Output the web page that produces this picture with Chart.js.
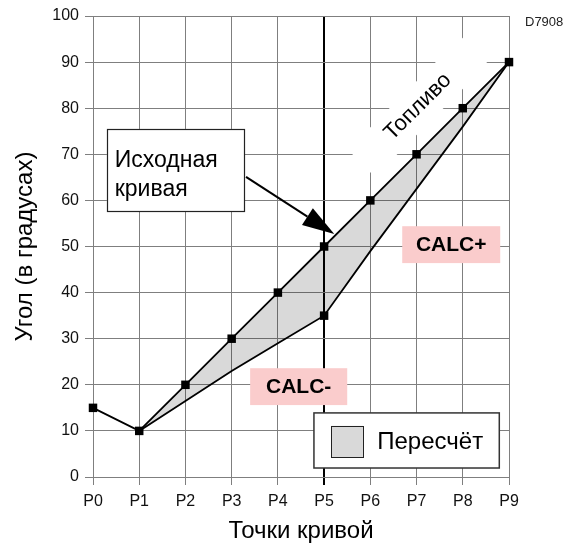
<!DOCTYPE html>
<html>
<head>
<meta charset="utf-8">
<script src="https://cdn.jsdelivr.net/npm/chart.js@4.4.1/dist/chart.umd.min.js"></script>
<style>
  html, body { margin: 0; padding: 0; background: #fff; }
  #wrap { width: 565px; height: 546px; position: relative; }
</style>
</head>
<body>
<div id="wrap"><canvas id="c"></canvas></div>
<script>
// ---- data ----
const categories = ['P0', 'P1', 'P2', 'P3', 'P4', 'P5', 'P6', 'P7', 'P8', 'P9'];
const initialCurve = [15, 10, 20, 30, 40, 50, 60, 70, 80, 90];
const recalcCurve = [null, 10, 16.5, 23, 29, 35, 49, 62.5, 76, 90];
const recalcMarkerIndex = 5;
const highlightCategory = 5;
const yTicks = { min: 0, max: 100, step: 10 };

const legendLabel = 'Пересчёт';
const xTitle = 'Точки кривой';
const yTitle = 'Угол (в градусах)';
const calloutLines = ['Исходная', 'кривая'];
const fuelLabel = 'Топливо';
const calcPlusLabel = 'CALC+';
const calcMinusLabel = 'CALC-';
const docId = 'D7908';

const FONT = '"Liberation Sans", Arial, Helvetica, sans-serif';
const GRID = '#7f7f7f';
const FILL = 'rgba(0,0,0,0.15)';
const PINK = '#facccc';

const annotations = {
  id: 'annotations',
  afterDraw(chart) {
    const ctx = chart.ctx;
    const xs = chart.scales.x, ys = chart.scales.y;
    const px = v => xs.getPixelForValue(v);
    const py = v => ys.getPixelForValue(v);
    ctx.save();

    // white band behind "Топливо"
    const ang = Math.atan2(py(initialCurve[9]) - py(initialCurve[6]), px(9) - px(6));
    ctx.save();
    ctx.translate(px(7.03), py(80.3));
    ctx.rotate(ang);
    ctx.fillStyle = '#fff';
    ctx.fillRect(-80, -19, 160, 38);
    ctx.fillStyle = '#000';
    ctx.font = '22px ' + FONT;
    ctx.textAlign = 'center';
    ctx.textBaseline = 'middle';
    ctx.fillText(fuelLabel, 0, 0);
    ctx.restore();

    // callout box
    const bx0 = px(0.3), bx1 = px(3.27), by0 = py(75.5), by1 = py(57.7);
    ctx.fillStyle = '#fff';
    ctx.fillRect(bx0, by0, bx1 - bx0, by1 - by0);
    ctx.strokeStyle = '#222';
    ctx.lineWidth = 1.2;
    ctx.strokeRect(Math.round(bx0) + 0.5, Math.round(by0) + 0.5, Math.round(bx1 - bx0), Math.round(by1 - by0));
    ctx.fillStyle = '#000';
    ctx.font = '23px ' + FONT;
    ctx.textAlign = 'left';
    ctx.textBaseline = 'alphabetic';
    ctx.fillText(calloutLines[0], px(0.47), py(67.2));
    ctx.fillText(calloutLines[1], px(0.47), py(60.9));

    // arrow
    const ax0 = px(3.31), ay0 = py(65.1), ax1 = px(5.22), ay1 = py(52.7);
    const a = Math.atan2(ay1 - ay0, ax1 - ax0);
    const hl = 32, hw = 10;
    const bxh = ax1 - hl * Math.cos(a), byh = ay1 - hl * Math.sin(a);
    ctx.strokeStyle = '#000';
    ctx.lineWidth = 2;
    ctx.beginPath();
    ctx.moveTo(ax0, ay0);
    ctx.lineTo(bxh, byh);
    ctx.stroke();
    ctx.beginPath();
    ctx.moveTo(ax1, ay1);
    ctx.lineTo(bxh + hw * Math.sin(a), byh - hw * Math.cos(a));
    ctx.lineTo(bxh - hw * Math.sin(a), byh + hw * Math.cos(a));
    ctx.closePath();
    ctx.fillStyle = '#000';
    ctx.fill();

    // pink labels
    function pinkLabel(text, x0, x1, y0, y1) {
      ctx.fillStyle = PINK;
      ctx.fillRect(px(x0), py(y0), px(x1) - px(x0), py(y1) - py(y0));
      ctx.fillStyle = '#000';
      ctx.font = 'bold 21px ' + FONT;
      ctx.textAlign = 'center';
      ctx.textBaseline = 'middle';
      ctx.fillText(text, (px(x0) + px(x1)) / 2, (py(y0) + py(y1)) / 2 + 1);
    }
    pinkLabel(calcPlusLabel, 6.69, 8.81, 54.4, 46.4);
    pinkLabel(calcMinusLabel, 3.40, 5.50, 23.6, 15.6);

    // legend
    const lx0 = px(4.78), lx1 = px(8.79), ly0 = py(13.9), ly1 = py(1.95);
    ctx.fillStyle = '#fff';
    ctx.fillRect(lx0, ly0, lx1 - lx0, ly1 - ly0);
    ctx.strokeStyle = '#333';
    ctx.lineWidth = 1.5;
    ctx.strokeRect(lx0, ly0, lx1 - lx0, ly1 - ly0);
    const sx0 = px(5.15), sx1 = px(5.84), sy0 = py(11.1), sy1 = py(4.34);
    ctx.fillStyle = '#d9d9d9';
    ctx.fillRect(sx0, sy0, sx1 - sx0, sy1 - sy0);
    ctx.strokeStyle = '#222';
    ctx.lineWidth = 1;
    ctx.strokeRect(Math.round(sx0) + 0.5, Math.round(sy0) + 0.5, Math.round(sx1 - sx0), Math.round(sy1 - sy0));
    ctx.fillStyle = '#000';
    ctx.font = '24px ' + FONT;
    ctx.textAlign = 'left';
    ctx.textBaseline = 'middle';
    ctx.fillText(chart.data.datasets[0].label, px(6.15), py(7.6));

    // document id
    ctx.fillStyle = '#222';
    ctx.font = '13px ' + FONT;
    ctx.textAlign = 'left';
    ctx.textBaseline = 'middle';
    ctx.fillText(docId, chart.chartArea.right + 16, chart.chartArea.top + 6);

    ctx.restore();
  }
};

new Chart(document.getElementById('c'), {
  type: 'line',
  data: {
    labels: categories,
    datasets: [
      {
        label: legendLabel,
        data: recalcCurve,
        borderColor: '#000',
        borderWidth: 1.8,
        backgroundColor: FILL,
        fill: '+1',
        tension: 0,
        pointStyle: 'rect',
        pointRadius: c => c.dataIndex === recalcMarkerIndex ? 6 : 0,
        pointBackgroundColor: '#000',
        pointBorderColor: '#000',
        pointBorderWidth: 0
      },
      {
        label: 'Исходная кривая',
        data: initialCurve,
        borderColor: '#000',
        borderWidth: 1.8,
        fill: false,
        tension: 0,
        pointStyle: 'rect',
        pointRadius: 6,
        pointBackgroundColor: '#000',
        pointBorderColor: '#000',
        pointBorderWidth: 0
      }
    ]
  },
  options: {
    responsive: true,
    maintainAspectRatio: false,
    devicePixelRatio: 1,
    animation: false,
    layout: { padding: { top: 16, right: 56, bottom: 0, left: 0 } },
    plugins: { legend: { display: false }, tooltip: { enabled: false } },
    scales: {
      x: {
        type: 'category',
        offset: false,
        grid: {
          offset: false,
          color: c => c.index === highlightCategory ? '#000' : GRID,
          lineWidth: c => c.index === highlightCategory ? 2 : 1,
          tickLength: 8
        },
        border: { color: GRID, width: 1 },
        ticks: { color: '#111', font: { family: FONT, size: 16 }, padding: 7, maxRotation: 0, autoSkip: false },
        title: { display: true, text: xTitle, color: '#000', font: { family: FONT, size: 24 }, padding: { top: 0, bottom: 0 } },
        afterFit: s => { s.height = 69; }
      },
      y: {
        min: yTicks.min,
        max: yTicks.max,
        grid: { color: GRID, lineWidth: 1, tickLength: 8 },
        border: { color: GRID, width: 1 },
        ticks: { stepSize: yTicks.step, color: '#111', font: { family: FONT, size: 16 }, padding: 6 },
        title: { display: true, text: yTitle, color: '#000', font: { family: FONT, size: 24 }, padding: { top: 11, bottom: 0 } },
        afterFit: s => { s.width = 93; }
      }
    }
  },
  plugins: [annotations]
});
</script>
</body>
</html>
